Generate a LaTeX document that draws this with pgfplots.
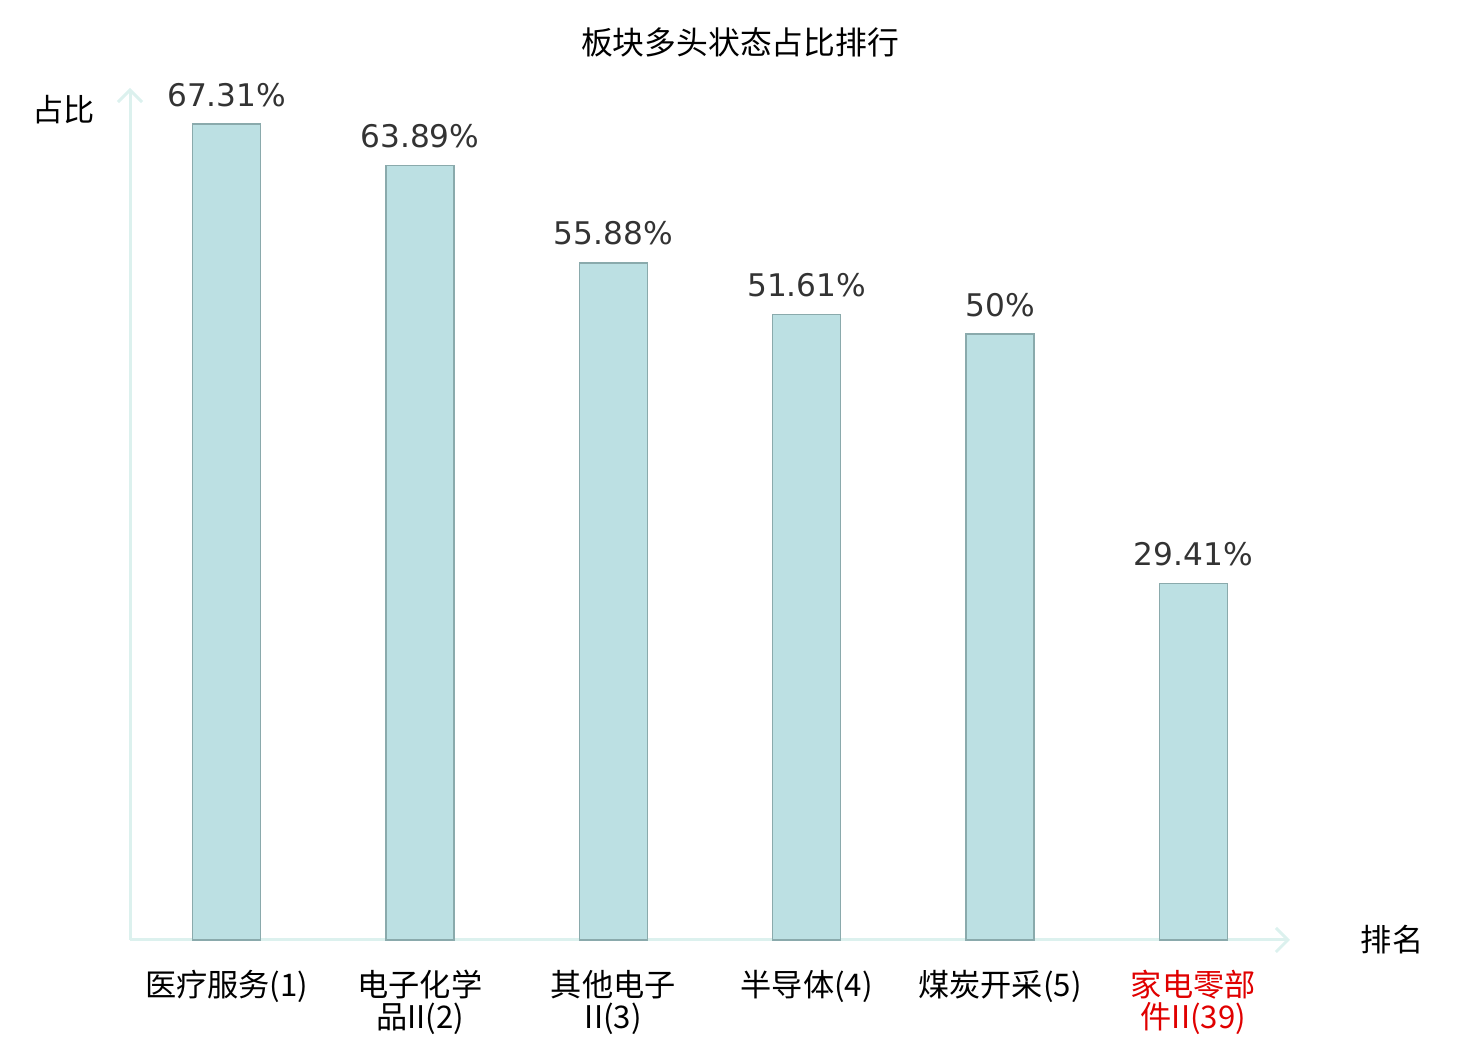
\documentclass[border=0pt]{standalone}
\usepackage{pgfplots}
\pgfplotsset{compat=1.18}
\usetikzlibrary{arrows.meta}
\usepackage{fontspec}
\setmainfont{Noto Sans CJK SC}
\newfontfamily\dejavu{DejaVu Sans}
\definecolor{barfill}{HTML}{BCE0E3}
\definecolor{baredge}{HTML}{8AAAAC}
\definecolor{axiscol}{HTML}{DCF1EE}
\definecolor{valcol}{HTML}{333333}
\definecolor{labred}{HTML}{E00000}
\begin{document}
\begin{tikzpicture}
\useasboundingbox (0,0) rectangle (740pt,520pt);
\begin{axis}[
  at={(65pt,50pt)}, anchor=south west,
  scale only axis, width=580pt, height=426pt,
  xmin=-0.5, xmax=5.5, ymin=0, ymax=70.3,
  axis x line=bottom, axis y line=left,
  axis line style={color=axiscol, line width=1.5pt},
  every outer x axis line/.append style={-{Straight Barb[length=6pt,width=12pt,line width=1.5pt]}},
  every outer y axis line/.append style={-{Straight Barb[length=6pt,width=12pt,line width=1.5pt]}},
  ytick=\empty,
  xtick={0,1,2,3,4,5},
  major tick length=0pt,
  xticklabels={{医疗服务(1)},{电子化学\\品II(2)},{其他电子\\II(3)},{半导体(4)},{煤炭开采(5)},{\textcolor{labred}{家电零部}\\\textcolor{labred}{件II(39)}}},
  xticklabel style={font=\fontsize{15.6}{16}\selectfont, align=center, inner sep=0pt, anchor=north, yshift=-15pt},
  ybar, bar width=34pt,
  clip=false,
  /pgf/number format/assume math mode=true,
  nodes near coords={\pgfmathprintnumber{\pgfplotspointmeta}\%},
  every node near coord/.append style={font=\dejavu\fontsize{15.6}{18}\selectfont, color=valcol, anchor=base, yshift=9pt, inner sep=0pt},
]
\addplot[fill=barfill, draw=baredge, line width=0.75pt] coordinates {
  (0,67.31) (1,63.89) (2,55.88) (3,51.61) (4,50) (5,29.41)
};
\end{axis}
\node[font=\fontsize{15.9}{16}\selectfont] at (370pt,499pt) {板块多头状态占比排行};
\node[font=\fontsize{15.6}{16}\selectfont] at (31.75pt,465pt) {占比};
\node[font=\fontsize{15.6}{16}\selectfont] at (696pt,50pt) {排名};
\end{tikzpicture}
\end{document}
